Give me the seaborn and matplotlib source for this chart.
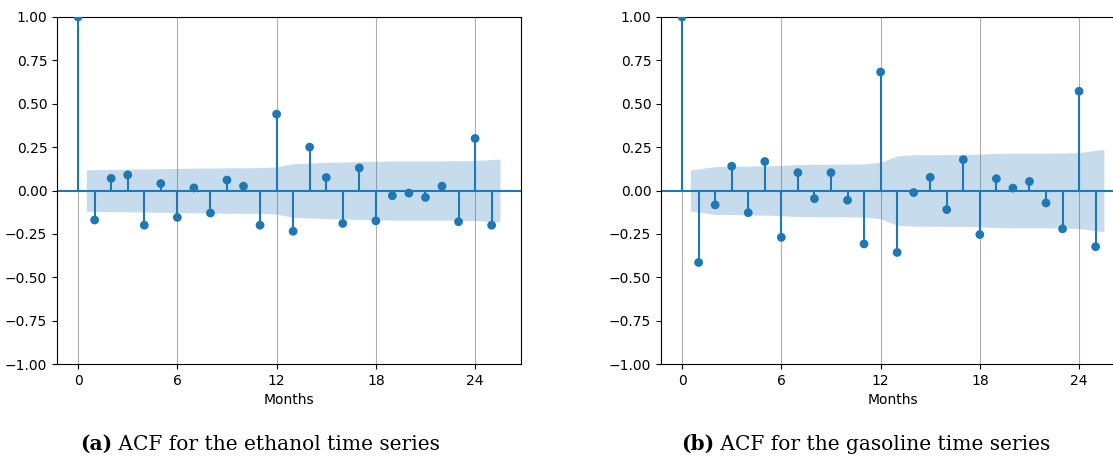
import numpy as np
import pandas as pd
import matplotlib
matplotlib.use('Agg')
import matplotlib.pyplot as plt
import seaborn as sns

# 数据：滞后阶数与ACF值
lags = list(range(26))

ethanol_acf = [1.0, -0.17, 0.07, 0.09, -0.20, 0.04, -0.155, 0.015, -0.13, 0.06,
               0.025, -0.20, 0.44, -0.235, 0.25, 0.075, -0.19, 0.13, -0.175, -0.03,
               -0.015, -0.04, 0.025, -0.18, 0.30, -0.20]
gasoline_acf = [1.0, -0.415, -0.083, 0.14, -0.128, 0.167, -0.27, 0.103, -0.047, 0.103,
                -0.056, -0.308, 0.683, -0.357, -0.012, 0.076, -0.11, 0.178, -0.254, 0.068,
                0.014, 0.052, -0.072, -0.221, 0.572, -0.324]

# 置信区间半宽（滞后 1..25）
ethanol_band = [0.120, 0.122, 0.123, 0.124, 0.126, 0.127, 0.129, 0.129, 0.131, 0.131,
                0.132, 0.136, 0.155, 0.158, 0.163, 0.164, 0.167, 0.168, 0.171, 0.171,
                0.171, 0.171, 0.172, 0.173, 0.181]
gasoline_band = [0.118, 0.138, 0.139, 0.141, 0.142, 0.145, 0.150, 0.151, 0.151, 0.152,
                 0.153, 0.163, 0.200, 0.206, 0.206, 0.207, 0.207, 0.210, 0.214, 0.215,
                 0.215, 0.215, 0.216, 0.219, 0.238]

x_ticks = [0, 6, 12, 18, 24]
captions = [('(a)', ' ACF for the ethanol time series'),
            ('(b)', ' ACF for the gasoline time series')]

sns.set_style('white')
plt.rcParams['font.family'] = ['DejaVu Sans']
plt.rcParams.update({'text.color': 'black', 'axes.labelcolor': 'black',
                     'xtick.color': 'black', 'ytick.color': 'black'})

W, H = 1113, 457
fig = plt.figure(figsize=(W / 100, H / 100), dpi=100)

blue = sns.color_palette()[0]


def plot_acf(ax, acf, band):
    df = pd.DataFrame({'lag': lags, 'acf': acf})
    # 置信带
    xb = np.array(lags[1:], dtype=float)
    xb[0] -= 0.5
    xb[-1] += 0.5
    band = np.array(band)
    ax.fill_between(xb, -band, band, color=blue, alpha=0.25, linewidth=0)
    ax.axhline(0, color=blue, lw=1.5, zorder=2)
    ax.vlines(df['lag'], 0, df['acf'], color=blue, lw=1.5, zorder=3)
    sns.scatterplot(data=df, x='lag', y='acf', ax=ax, color=blue, s=40,
                    edgecolor='none', zorder=4)
    ax.set_xlim(-1.275, 26.775)
    ax.set_ylim(-1.0, 1.0)
    ax.set_xticks(x_ticks)
    ax.set_yticks(np.arange(-1.0, 1.01, 0.25))
    ax.set_yticklabels([f'{v:.2f}'.replace('-', '\u2212') for v in np.arange(-1.0, 1.01, 0.25)])
    ax.grid(axis='x', color='#b0b0b0', lw=0.8)
    ax.grid(axis='y', visible=False)
    ax.set_axisbelow(True)
    ax.set_xlabel('Months', fontsize=10)
    ax.set_ylabel('')
    ax.tick_params(axis='both', labelsize=10, length=3.5, width=0.8, direction='out',
                   bottom=True, left=True)
    for s in ax.spines.values():
        s.set_color('black')
        s.set_linewidth(0.8)


ax1 = fig.add_axes([57 / W, 93 / H, 464 / W, 347 / H])
ax2 = fig.add_axes([661 / W, 93 / H, 464 / W, 347 / H])
plot_acf(ax1, ethanol_acf, ethanol_band)
plot_acf(ax2, gasoline_acf, gasoline_band)

# 图注
for (tag, rest), xc in zip(captions, [80 / W, 681 / W]):
    t = fig.text(xc, 7 / H, tag, fontsize=14.5, fontweight='bold',
                 family='DejaVu Serif', va='baseline', ha='left', color='black')
    fig.canvas.draw()
    plt.annotate(rest, xy=(1, 0), xycoords=t, va='bottom', ha='left', color='black',
                 fontsize=14.5, family='DejaVu Serif', annotation_clip=False)

fig.savefig('out.png', dpi=100)
